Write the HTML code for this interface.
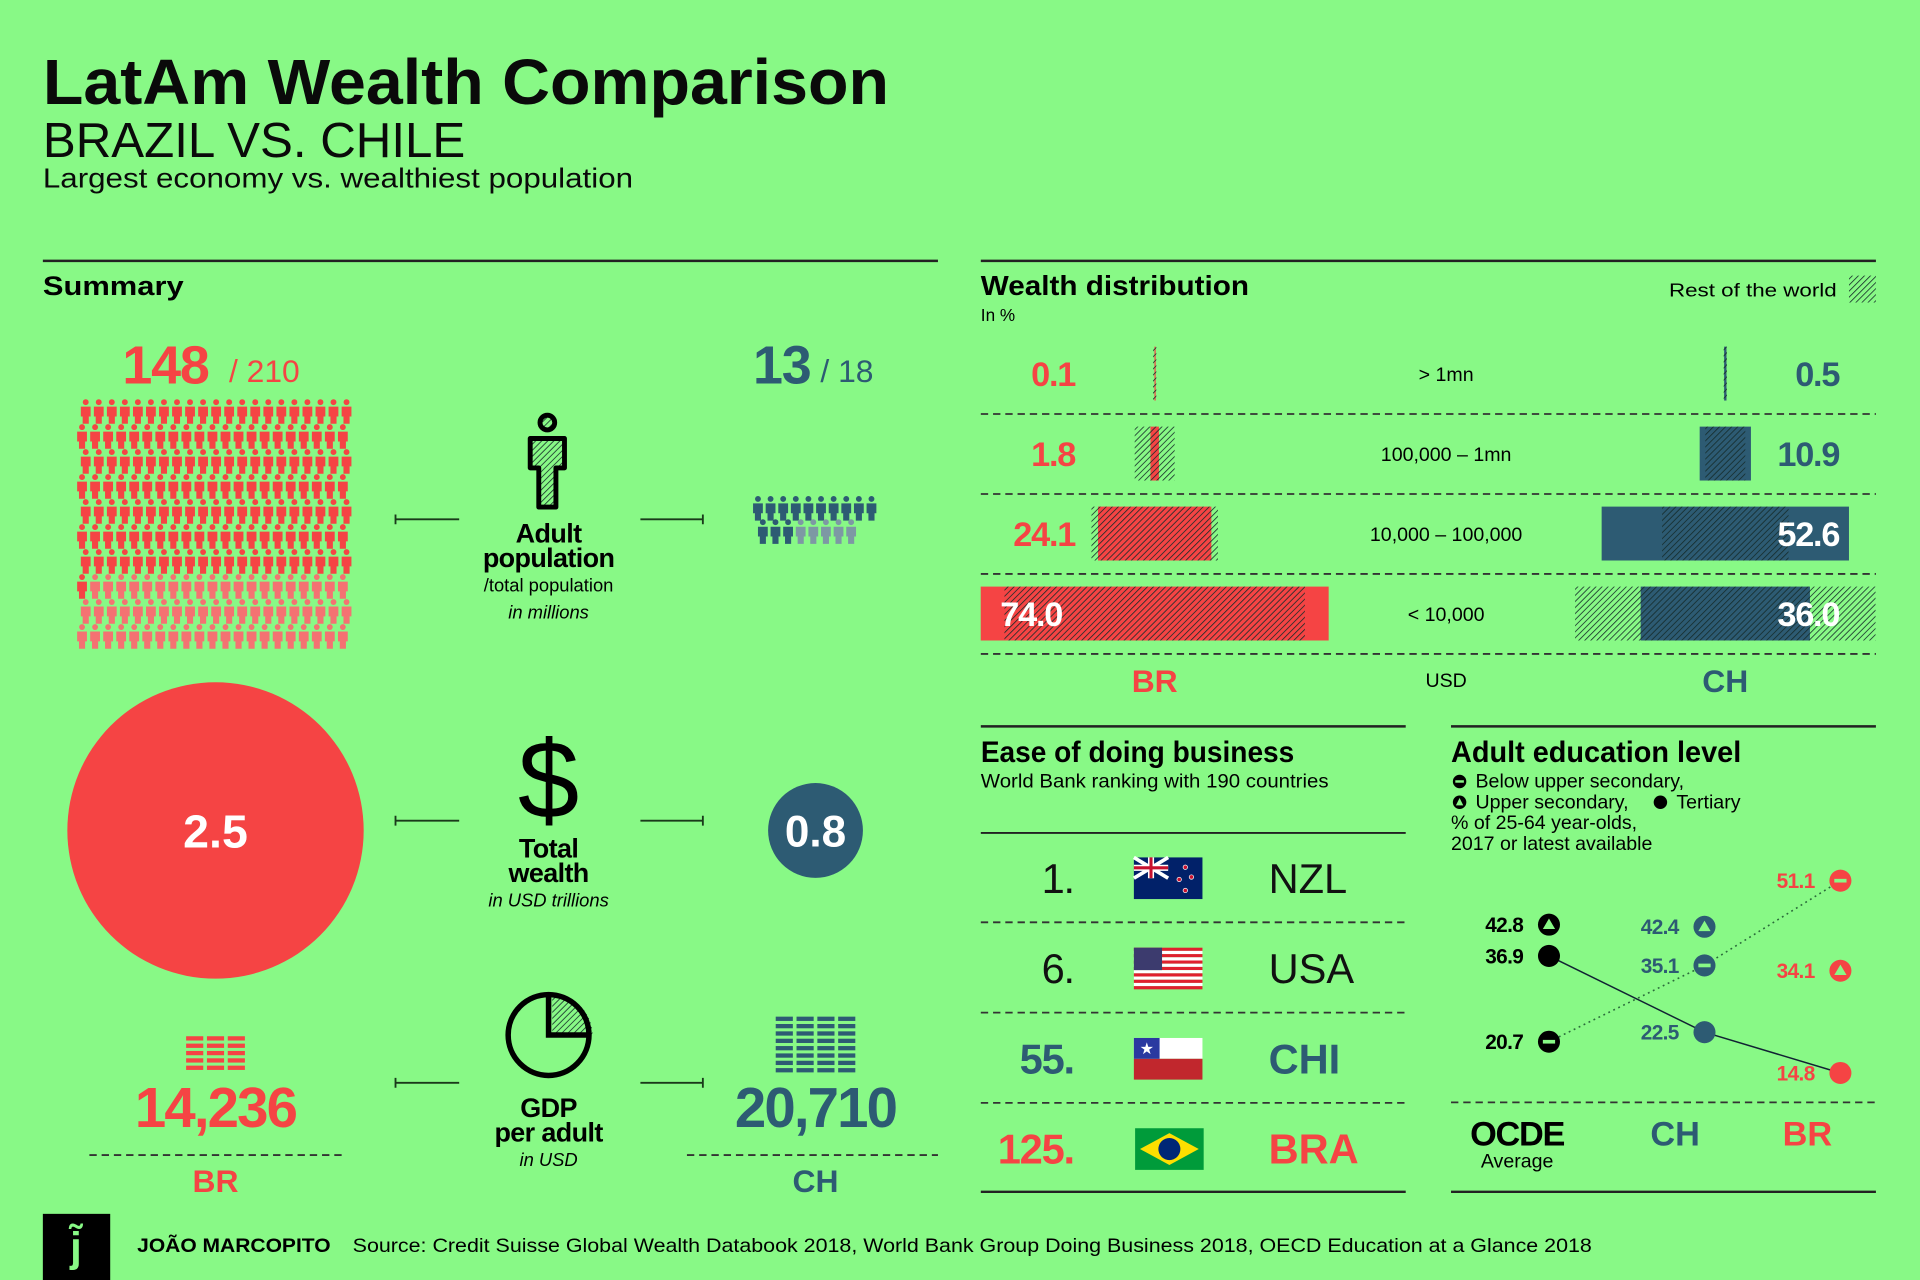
<!DOCTYPE html>
<html><head><meta charset="utf-8"><style>
html,body{margin:0;padding:0;background:#88f986;}
svg{display:block;font-family:"Liberation Sans",sans-serif;}
</style></head><body>
<svg id="s" width="1920" height="1280" viewBox="0 0 1568 1045" preserveAspectRatio="none" xmlns="http://www.w3.org/2000/svg">
<defs>
<pattern id="hatch" width="3.5" height="3.5" patternUnits="userSpaceOnUse" patternTransform="rotate(45)">
<rect width="3.5" height="3.5" fill="none"/><line x1="0" y1="0" x2="0" y2="3.5" stroke="#152b2a" stroke-width="1.3"/></pattern>
</defs>
<rect width="1568" height="1045" fill="#88f986"/>
<g>
<text x="35" y="85" font-size="52" font-weight="bold" fill="#0a0a0a" textLength="691" lengthAdjust="spacingAndGlyphs">LatAm Wealth Comparison</text>
<text x="35" y="128" font-size="40" fill="#0a0a0a" textLength="345" lengthAdjust="spacingAndGlyphs">BRAZIL VS. CHILE</text>
<text x="35" y="153" font-size="23" fill="#0a0a0a" textLength="482" lengthAdjust="spacingAndGlyphs">Largest economy vs. wealthiest population</text>
</g>
<line x1="35" y1="213" x2="766" y2="213" stroke="#222" stroke-width="2"/>
<line x1="801" y1="213" x2="1532" y2="213" stroke="#222" stroke-width="2"/>
<text x="35" y="241" font-size="22" font-weight="bold" textLength="115" lengthAdjust="spacingAndGlyphs">Summary</text>
<text x="801" y="241" font-size="23" font-weight="bold" textLength="219" lengthAdjust="spacingAndGlyphs">Wealth distribution</text>
<text x="801" y="262" font-size="14">In %</text>
<text x="1363" y="242" font-size="15" textLength="137" lengthAdjust="spacingAndGlyphs">Rest of the world</text>
<rect x="1510" y="225" width="22" height="22" fill="url(#hatch)"/>
<g id="wealth"></g>
<line x1="801" y1="593" x2="1148" y2="593" stroke="#222" stroke-width="2"/>
<line x1="1185" y1="593" x2="1532" y2="593" stroke="#222" stroke-width="2"/>
<text x="801" y="622" font-size="24" font-weight="bold" textLength="256" lengthAdjust="spacingAndGlyphs">Ease of doing business</text>
<text x="801" y="643" font-size="16" textLength="284" lengthAdjust="spacingAndGlyphs">World Bank ranking with 190 countries</text>
<line x1="801" y1="680" x2="1148" y2="680" stroke="#222" stroke-width="1.5"/>
<g id="ease"></g>
<line x1="801" y1="973" x2="1148" y2="973" stroke="#222" stroke-width="2"/>
<text x="1185" y="622" font-size="24" font-weight="bold" textLength="237" lengthAdjust="spacingAndGlyphs">Adult education level</text>
<g font-size="16">
<circle cx="1192" cy="638" r="5.5" fill="#000"/><rect x="1188.5" y="637" width="7" height="2" fill="#88f986"/>
<text x="1205" y="643">Below upper secondary,</text>
<circle cx="1192" cy="655" r="5.5" fill="#000"/><path d="M1192 651.5 L1195 657.5 L1189 657.5Z" fill="#88f986"/>
<text x="1205" y="660">Upper secondary,</text>
<circle cx="1356" cy="655" r="5.5" fill="#000"/>
<text x="1369" y="660">Tertiary</text>
<text x="1185" y="677">% of 25-64 year-olds,</text>
<text x="1185" y="694">2017 or latest available</text>
</g>
<g id="edu"></g>
<line x1="1185" y1="900" x2="1532" y2="900" stroke="#333" stroke-width="1.5" stroke-dasharray="6 4"/>
<text x="1239" y="935" font-size="28" font-weight="bold" text-anchor="middle" letter-spacing="-1">OCDE</text>
<text x="1239" y="953" font-size="16" text-anchor="middle">Average</text>
<text x="1368" y="935" font-size="28" font-weight="bold" text-anchor="middle" fill="#2d5b73">CH</text>
<text x="1476" y="935" font-size="28" font-weight="bold" text-anchor="middle" fill="#f54444">BR</text>
<line x1="1185" y1="973" x2="1532" y2="973" stroke="#222" stroke-width="2"/>
<g id="summary"></g>
<g>
<rect x="35" y="991" width="55" height="54" fill="#000"/>
<text x="62" y="1030" font-size="34" font-weight="bold" fill="#88f986" text-anchor="middle">j̃</text>
<text x="112" y="1022" font-size="16" font-weight="bold" textLength="158" lengthAdjust="spacingAndGlyphs">JOÃO MARCOPITO</text>
<text x="288" y="1022" font-size="16" textLength="1012" lengthAdjust="spacingAndGlyphs">Source: Credit Suisse Global Wealth Databook 2018, World Bank Group Doing Business 2018, OECD Education at a Glance 2018</text>
</g>
</svg>
<script>
const bands = ["> 1mn","100,000 – 1mn","10,000 – 100,000","< 10,000"];
const brWealth = [0.1,1.8,24.1,74.0];
const chWealth = [0.5,10.9,52.6,36.0];
const worldWealth = [0.7,8.5,26.9,63.9];
const rankNames = ["NZL","USA","CHI","BRA"];
const rankValues = [1,6,55,125];
const eduOcde = [20.7,42.8,36.9];
const eduCh = [35.1,42.4,22.5];
const eduBr = [51.1,34.1,14.8];
const popBr = [148,210];
const popCh = [13,18];
const wealthTotals = [2.5,0.8];
const gdpAdult = [14236,20710];

const NS="http://www.w3.org/2000/svg";
const RED="#f54444", BLUE="#2d5b73", LRED="#f47272", LBLUE="#7d98a4";
function mk(parent,tag,attrs,text){const e=document.createElementNS(NS,tag);for(const k in attrs)e.setAttribute(k,attrs[k]);if(text!==undefined)e.textContent=text;parent.appendChild(e);return e;}

const W=document.getElementById('wealth');
const wScale=v=>v*3.84;
const rowY=i=>305+i*65.3;
const brC=943, chC=1409;
for(let i=0;i<4;i++){
  const y=rowY(i), h=44;
  const bw=wScale(brWealth[i]), ww=wScale(worldWealth[i]), cw=wScale(chWealth[i]);
  const rb=mk(W,'rect',{x:brC-bw/2,y:y-h/2,width:Math.max(bw,1),height:h,fill:RED});
  
  
  const hb=mk(W,'rect',{x:brC-ww/2,y:y-h/2,width:ww,height:h,fill:'url(#hatch)'});
  
  
  const rc=mk(W,'rect',{x:chC-cw/2,y:y-h/2,width:Math.max(cw,1.5),height:h,fill:BLUE});
  
  
  const hc=mk(W,'rect',{x:chC-ww/2,y:y-h/2,width:ww,height:h,fill:'url(#hatch)'});
  
  
  const brIn = bw>250, chIn = cw>120;
  const tb=mk(W,'text',{x:brIn?brC-bw/2+16:878,y:y+10,'font-size':28,'font-weight':'bold',fill:brIn?'#fff':RED,'text-anchor':brIn?'start':'end','letter-spacing':-1},brWealth[i].toFixed(1));
  
  
  const tc=mk(W,'text',{x:1502,y:y+10,'font-size':28,'font-weight':'bold',fill:chIn?'#fff':BLUE,'text-anchor':'end','letter-spacing':-1},chWealth[i].toFixed(1));
  
  
  const tl=mk(W,'text',{x:1181,y:y+6,'font-size':16,'text-anchor':'middle'},bands[i]);
  
  
  mk(W,'line',{x1:801,y1:y+33,x2:1532,y2:y+33,stroke:'#333','stroke-width':1.5,'stroke-dasharray':'6 4'});
}
let t=mk(W,'text',{x:brC,y:565,'font-size':26,'font-weight':'bold',fill:RED,'text-anchor':'middle'},'BR');


t=mk(W,'text',{x:1181,y:561,'font-size':16,'text-anchor':'middle'},'USD');


t=mk(W,'text',{x:chC,y:565,'font-size':26,'font-weight':'bold',fill:BLUE,'text-anchor':'middle'},'CH');



const E=document.getElementById('ease');
const rankColors=['#111','#111',BLUE,RED];
function flag(i,x,y){
  const g=mk(E,'g',{});
  
  
  const w=56,h=34;
  if(i===0){mk(g,'rect',{x,y,width:w,height:h,fill:'#012169'});
    mk(g,'path',{d:`M${x} ${y}L${x+28} ${y+17}M${x+28} ${y}L${x} ${y+17}`,stroke:'#fff','stroke-width':3});
    mk(g,'path',{d:`M${x+14} ${y}V${y+17}M${x} ${y+8.5}H${x+28}`,stroke:'#fff','stroke-width':5});
    mk(g,'path',{d:`M${x+14} ${y}V${y+17}M${x} ${y+8.5}H${x+28}`,stroke:'#c8102e','stroke-width':2.5});
    [[x+42,y+8],[x+37,y+18],[x+47,y+16],[x+42,y+27]].forEach(p=>mk(g,'circle',{cx:p[0],cy:p[1],r:1.8,fill:'#c8102e',stroke:'#fff','stroke-width':0.6}));}
  if(i===1){for(let k=0;k<13;k++)mk(g,'rect',{x,y:y+k*h/13,width:w,height:h/13,fill:k%2?'#fff':'#e0202e'});
    mk(g,'rect',{x,y,width:23,height:h*7/13,fill:'#3c3b6e'});}
  if(i===2){mk(g,'rect',{x,y,width:w,height:h/2,fill:'#fff'});mk(g,'rect',{x,y:y+h/2,width:w,height:h/2,fill:'#c1272d'});
    mk(g,'rect',{x,y,width:21,height:h/2,fill:'#2a39a0'});mk(g,'text',{x:x+10.5,y:y+13,'font-size':13,fill:'#fff','text-anchor':'middle'},'★');}
  if(i===3){mk(g,'rect',{x:x+1,y,width:w,height:h,fill:'#009b3a'});
    mk(g,'path',{d:`M${x+5} ${y+h/2}L${x+29} ${y+4}L${x+53} ${y+h/2}L${x+29} ${y+h-4}Z`,fill:'#fedf00'});
    mk(g,'circle',{cx:x+29,cy:y+h/2,r:9,fill:'#002776'});}
}
for(let i=0;i<4;i++){
  const y=717+i*73.7;
  const bold=i>=2;
  const r=mk(E,'text',{x:877,y:y+12,'font-size':34,'font-weight':bold?'bold':'normal',fill:rankColors[i],'text-anchor':'end','letter-spacing':-1},rankValues[i]+'.');
  
  
  flag(i,926,y-17);
  const n=mk(E,'text',{x:1036,y:y+12,'font-size':34,'font-weight':bold?'bold':'normal',fill:rankColors[i]},rankNames[i]);
  
  
  if(i<3)mk(E,'line',{x1:801,y1:y+36,x2:1148,y2:y+36,stroke:'#333','stroke-width':1.5,'stroke-dasharray':'6 4'});
}

const D=document.getElementById('edu');
const ey=v=>719+(51.1-v)*4.325;
const cols=[1265,1392,1503];
const series=[eduOcde,eduCh,eduBr];
const scol=['#000',BLUE,RED];
const lineTer=mk(D,'polyline',{points:series.map((s,c)=>cols[c]+','+ey(s[2])).join(' '),fill:'none',stroke:'#123','stroke-width':1.2});


const lineBelow=mk(D,'polyline',{points:series.map((s,c)=>cols[c]+','+ey(s[0])).join(' '),fill:'none',stroke:'#2a6a3a','stroke-width':1.3,'stroke-dasharray':'1.5 3'});


const kinds=['below','upper','tertiary'];
for(let c=0;c<3;c++){for(let k=0;k<3;k++){
  const v=series[c][k], x=cols[c], y=ey(v);
  const m=mk(D,'circle',{cx:x,cy:y,r:9,fill:scol[c]});
  
  
  if(k===0)mk(D,'rect',{x:x-5,y:y-1.5,width:10,height:3,fill:'#88f986'});
  if(k===1)mk(D,'path',{d:`M${x} ${y-5}L${x+5} ${y+3.5}L${x-5} ${y+3.5}Z`,fill:'#88f986'});
  const l=mk(D,'text',{x:x-21,y:y+6,'font-size':17,'font-weight':'bold',fill:scol[c],'text-anchor':'end','letter-spacing':-0.5},v.toFixed(1));
  
  
}}

const S=document.getElementById('summary');
function person(x,y,color){mk(S,'circle',{cx:x,cy:y+2.3,r:2.4,fill:color});
  mk(S,'path',{d:`M${x-4} ${y+6}h8v8h-1.5v6h-5v-6h-1.5z`,fill:color});}
t=mk(S,'text',{x:100,y:313,'font-size':44,'font-weight':'bold',fill:RED,'letter-spacing':-1},String(popBr[0]));


mk(S,'text',{x:187,y:312,'font-size':26,fill:RED},'/ '+popBr[1]);
t=mk(S,'text',{x:615,y:313,'font-size':44,'font-weight':'bold',fill:BLUE,'letter-spacing':-1},String(popCh[0]));


mk(S,'text',{x:670,y:312,'font-size':26,fill:BLUE},'/ '+popCh[1]);
for(let i=0;i<popBr[1];i++){const r=Math.floor(i/21),c=i%21;
  person(70+c*10.65+(r%2?-3:0),326+r*20.4,i<popBr[0]?RED:LRED);}
for(let i=0;i<popCh[1];i++){const r=Math.floor(i/10),c=i%10;
  person(619+c*10.3+(r%2?4:0),405+r*19,i<popCh[0]?BLUE:LBLUE);}
const pi=mk(S,'g',{});


mk(pi,'circle',{cx:447,cy:345,r:6,fill:'url(#hatch)',stroke:'#000','stroke-width':4});
mk(pi,'path',{d:'M433 358h28v24h-7v32h-14v-32h-7z',fill:'url(#hatch)',stroke:'#000','stroke-width':4,'stroke-linejoin':'round'});
function labels(y0,lines){lines.forEach(l=>mk(S,'text',{x:448,y:y0+l[0],'font-size':l[1],'font-weight':l[2]?'bold':'normal','font-style':l[3]?'italic':'normal','text-anchor':'middle','letter-spacing':l[2]?-0.5:0},l[4]));}
labels(0,[[443,22,1,0,'Adult'],[463,22,1,0,'population'],[483,15,0,0,'/total population'],[505,15,0,1,'in millions']]);
labels(0,[[700,22,1,0,'Total'],[720,22,1,0,'wealth'],[740,15,0,1,'in USD trillions']]);
labels(0,[[912,22,1,0,'GDP'],[932,22,1,0,'per adult'],[952,15,0,1,'in USD']]);
function conn(y){mk(S,'path',{d:`M323 ${y}h52M323 ${y-4}v8M523 ${y}h51M574 ${y-4}v8`,stroke:'#1a3a1a','stroke-width':1.5,fill:'none'});}
conn(424);conn(670);conn(884);
const rs=v=>v*48.4;
let c1=mk(S,'circle',{cx:176,cy:678,r:rs(wealthTotals[0]),fill:RED});


mk(S,'text',{x:176,y:692,'font-size':38,'font-weight':'bold',fill:'#fff','text-anchor':'middle'},wealthTotals[0].toFixed(1));
let c2=mk(S,'circle',{cx:666,cy:678,r:rs(wealthTotals[1]),fill:BLUE});


mk(S,'text',{x:666,y:691,'font-size':36,'font-weight':'bold',fill:'#fff','text-anchor':'middle'},wealthTotals[1].toFixed(1));
t=mk(S,'text',{x:448,y:668,'font-size':90,'text-anchor':'middle',fill:'#000'},'$');


const pie=mk(S,'g',{});


mk(pie,'path',{d:'M451 812 A33 33 0 0 1 484 845 L451 845Z',fill:'url(#hatch)'});
mk(pie,'circle',{cx:448,cy:845,r:33,fill:'none',stroke:'#000','stroke-width':4.5});
mk(pie,'path',{d:'M448 812V845H481',fill:'none',stroke:'#000','stroke-width':4.5});
function stacks(cx,bottom,cols,rows,color){const w=14,g=3,tw=cols*w+(cols-1)*g;
  for(let c=0;c<cols;c++)for(let r=0;r<rows;r++)mk(S,'rect',{x:cx-tw/2+c*(w+g),y:bottom-(r+1)*6,width:w,height:3.5,fill:color});}
stacks(176,876,3,5,RED);
stacks(666,878,4,8,BLUE);
t=mk(S,'text',{x:176,y:920,'font-size':46,'font-weight':'bold',fill:RED,'text-anchor':'middle','letter-spacing':-1.5},gdpAdult[0].toLocaleString('en-US'));


t=mk(S,'text',{x:666,y:920,'font-size':46,'font-weight':'bold',fill:BLUE,'text-anchor':'middle','letter-spacing':-1.5},gdpAdult[1].toLocaleString('en-US'));


mk(S,'line',{x1:73,y1:943,x2:283,y2:943,stroke:'#333','stroke-width':1.5,'stroke-dasharray':'6 4'});
mk(S,'line',{x1:561,y1:943,x2:766,y2:943,stroke:'#333','stroke-width':1.5,'stroke-dasharray':'6 4'});
t=mk(S,'text',{x:176,y:973,'font-size':26,'font-weight':'bold',fill:RED,'text-anchor':'middle'},'BR');


t=mk(S,'text',{x:666,y:973,'font-size':26,'font-weight':'bold',fill:BLUE,'text-anchor':'middle'},'CH');


</script>
</body></html>
